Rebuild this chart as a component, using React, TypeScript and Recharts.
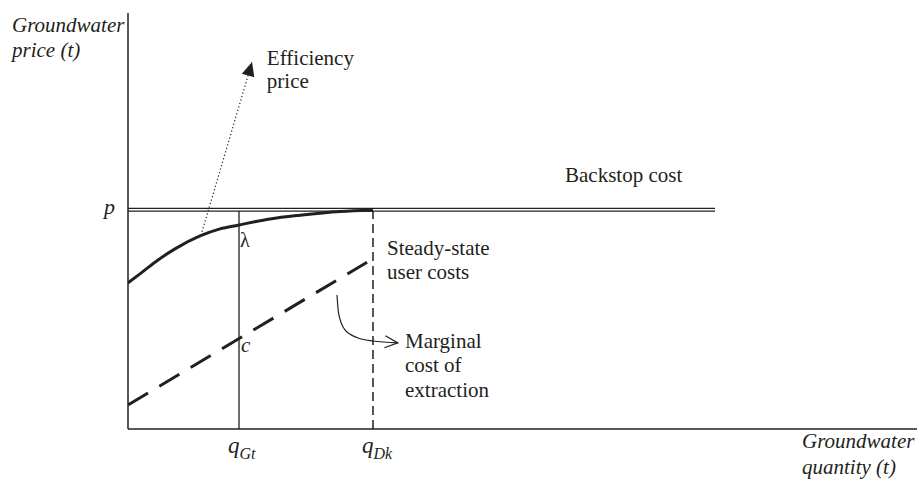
import React from "react";
import {
  ComposedChart,
  Line,
  XAxis,
  YAxis,
  ReferenceLine,
  ReferenceDot,
} from "recharts";

const FONT = '"Liberation Serif", "Times New Roman", serif';
const INK = "#231f20";

// quantity on x (0-100), price on y (0-100)
const qTickValues = [14.07, 31.05];
const qTickSubs = ["Gt", "Dk"];

const backstopPrice = 52.7;
const backstopEnd = 74.4;

const effX = [0, 1.52, 3.42, 5.96, 9.13, 11.66, 13.94, 18.0, 21.8, 26.9, 31.05];
const effY = [35.1, 37.3, 40.1, 43.3, 46.4, 48.1, 49.0, 50.5, 51.4, 52.3, 52.6];

const mcX = [0, 30.3];
const mcY = [5.8, 40.1];

const pointerX = [9.38, 15.72];
const pointerY = [47.4, 88.2];

const bendX = [26.49, 26.68, 27.5, 29.0, 31.05, 34.2];
const bendY = [32.2, 27.9, 23.8, 22.0, 21.15, 20.7];

const zip = (xs: number[], ys: number[]) => xs.map((x, i) => ({ x, y: ys[i] }));

const effData = zip(effX, effY);
const mcData = zip(mcX, mcY);
const pointerData = zip(pointerX, pointerY);
const bendData = zip(bendX, bendY);

function MultiLine({ viewBox, lines, italic, size = 21, lh = 24 }: any) {
  const x = viewBox?.x ?? 0;
  const y = viewBox?.y ?? 0;
  return (
    <text x={x} y={y} fill={INK} fontFamily={FONT} fontSize={size} fontStyle={italic ? "italic" : "normal"}>
      {lines.map((l: string, i: number) => (
        <tspan key={i} x={x} dy={i === 0 ? 0 : lh}>
          {l}
        </tspan>
      ))}
    </text>
  );
}

const filledHead = (last: number, angle: number) => (props: any) => {
  const { cx, cy, index } = props;
  if (index !== last) return <g key={index} />;
  return (
    <path
      key={index}
      d="M0,0 L-14,-6.5 L-14,6.5 Z"
      transform={`translate(${cx},${cy}) rotate(${angle})`}
      fill={INK}
    />
  );
};

const openHead = (last: number, angle: number) => (props: any) => {
  const { cx, cy, index } = props;
  if (index !== last) return <g key={index} />;
  return (
    <path
      key={index}
      d="M-13,-6 L0,0 L-13,6"
      transform={`translate(${cx},${cy}) rotate(${angle})`}
      fill="none"
      stroke={INK}
      strokeWidth={1.2}
    />
  );
};

function QTick({ x, y, index }: any) {
  return (
    <text x={x - 11} y={y + 16} fill={INK} fontFamily={FONT} fontStyle="italic">
      <tspan fontSize={23}>q</tspan>
      <tspan fontSize={16} dy={6}>
        {qTickSubs[index]}
      </tspan>
    </text>
  );
}

function PTick({ x, y }: any) {
  return (
    <text x={x - 5} y={y + 4} textAnchor="end" fill={INK} fontFamily={FONT} fontStyle="italic" fontSize={22}>
      p
    </text>
  );
}

const label = (lines: string[], italic = false, size = 21, lh = 24) => (props: any) => (
  <MultiLine viewBox={props.viewBox} lines={lines} italic={italic} size={size} lh={lh} />
);

export default function App() {
  return (
    <div style={{ position: "absolute", left: 0, top: 0, background: "#fff" }}>
      <ComposedChart width={917} height={483} margin={{ top: 13, right: 0, bottom: 0, left: 0 }}>
        <XAxis
          dataKey="x"
          type="number"
          domain={[0, 100]}
          ticks={qTickValues}
          tick={<QTick />}
          tickLine={false}
          axisLine={{ stroke: INK, strokeWidth: 1.5 }}
          height={54}
          allowDataOverflow
          label={(p: any) => (
            <MultiLine
              viewBox={{ x: p.viewBox.x + 674, y: p.viewBox.y + 19 }}
              lines={["Groundwater", "quantity (t)"]}
              italic
              lh={26}
            />
          )}
        />
        <YAxis
          dataKey="y"
          type="number"
          domain={[0, 100]}
          ticks={[backstopPrice]}
          tick={<PTick />}
          tickLine={false}
          axisLine={{ stroke: INK, strokeWidth: 1.5 }}
          width={128}
          allowDataOverflow
          label={(p: any) => (
            <MultiLine
              viewBox={{ x: p.viewBox.x + 12, y: p.viewBox.y + 19 }}
              lines={["Groundwater", "price (t)"]}
              italic
              lh={25}
            />
          )}
        />

        <ReferenceLine
          segment={[{ x: qTickValues[0], y: 0 }, { x: qTickValues[0], y: backstopPrice }]}
          stroke={INK}
          strokeWidth={1.3}
        />
        <ReferenceLine
          segment={[{ x: qTickValues[1], y: 0 }, { x: qTickValues[1], y: backstopPrice }]}
          stroke={INK}
          strokeWidth={1.5}
          strokeDasharray="9 5"
        />
        <ReferenceLine
          segment={[{ x: 0, y: backstopPrice }, { x: backstopEnd, y: backstopPrice }]}
          stroke={INK}
          strokeWidth={4}
        />
        <ReferenceLine
          segment={[{ x: 0, y: backstopPrice }, { x: backstopEnd, y: backstopPrice }]}
          stroke="#fff"
          strokeWidth={1.4}
        />

        <Line
          data={pointerData}
          dataKey="y"
          type="linear"
          stroke={INK}
          strokeWidth={1.2}
          strokeDasharray="1.2 2.4"
          dot={filledHead(pointerData.length - 1, -73.6)}
          activeDot={false}
          isAnimationActive={false}
        />
        <Line
          data={effData}
          dataKey="y"
          type="monotone"
          stroke={INK}
          strokeWidth={3}
          dot={false}
          activeDot={false}
          isAnimationActive={false}
        />
        <Line
          data={mcData}
          dataKey="y"
          type="linear"
          stroke={INK}
          strokeWidth={3}
          strokeDasharray="23.3 13.2"
          dot={false}
          activeDot={false}
          isAnimationActive={false}
        />
        <Line
          data={bendData}
          dataKey="y"
          type="monotoneX"
          stroke={INK}
          strokeWidth={1.2}
          dot={openHead(bendData.length - 1, 5)}
          activeDot={false}
          isAnimationActive={false}
        />

        <ReferenceDot x={17.6} y={87.5} r={0} label={label(["Efficiency", "price"], false, 21, 23)} />
        <ReferenceDot x={55.39} y={59.4} r={0} label={label(["Backstop cost"])} />
        <ReferenceDot x={14.2} y={43.8} r={0} label={label(["λ"], false, 20)} />
        <ReferenceDot x={14.32} y={18.5} r={0} label={label(["c"], true, 21)} />
        <ReferenceDot x={32.83} y={41.8} r={0} label={label(["Steady-state", "user costs"])} />
        <ReferenceDot x={35.11} y={19.5} r={0} label={label(["Marginal", "cost of", "extraction"], false, 21, 24.5)} />
      </ComposedChart>
    </div>
  );
}
